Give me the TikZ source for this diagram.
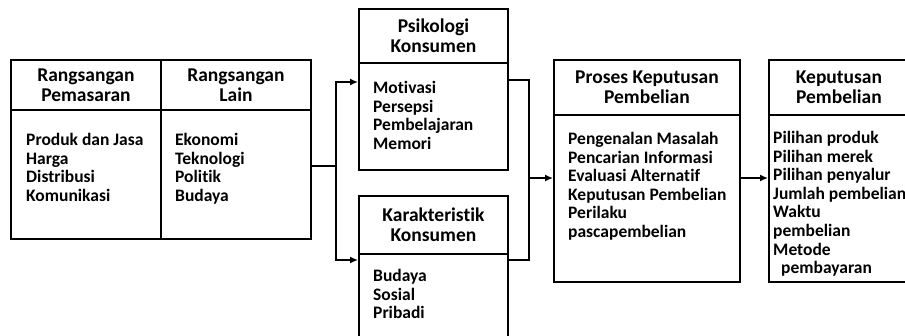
\documentclass[tikz,border=0pt]{standalone}
\usepackage{fontspec}
\setmainfont{Carlito}[Ligatures=CommonOff]
\usetikzlibrary{arrows.meta}

\newcommand{\hdfont}{\bfseries\fontsize{19.5}{20}\selectfont}
\newcommand{\itfont}{\bfseries\fontsize{17.5}{18.6}\selectfont}

\begin{document}
\begin{tikzpicture}[x=1pt, y=-1pt,
    box/.style={draw, line width=1.9pt, inner sep=0pt, anchor=north west},
    hd/.style={box, font=\hdfont, align=center},
    items/.style={anchor=north west, inner sep=0pt, align=left, font=\itfont},
    line/.style={line width=1.4pt},
    arr/.style={line, -{Latex[length=8pt, width=7pt]}}]
    \useasboundingbox (0,0) rectangle (905,335);

    \node[hd, minimum width=150pt, minimum height=50pt] (rpH) at (10,59) {Rangsangan\\Pemasaran};
    \node[hd, minimum width=150pt, minimum height=50pt] (rlH) at (160,59) {Rangsangan\\Lain};
    \node[box, minimum width=150pt, minimum height=129pt] (rpB) at (10,109) {};
    \node[box, minimum width=150pt, minimum height=129pt] (rlB) at (160,109) {};
    \node[items] (rpT) at (26,133) {Produk dan Jasa\\Harga\\Distribusi\\Komunikasi};
    \node[items] (rlT) at (175,133) {Ekonomi\\Teknologi\\Politik\\Budaya};

    \node[hd, minimum width=149pt, minimum height=54pt] (psiH) at (358,8) {Psikologi\\Konsumen};
    \node[box, minimum width=149pt, minimum height=107pt] (psiB) at (358,62) {};
    \node[items] (psiT) at (373,81) {Motivasi\\Persepsi\\Pembelajaran\\Memori};

    \node[hd, minimum width=149pt, minimum height=58pt] (karH) at (358,195) {Karakteristik\\Konsumen};
    \node[box, minimum width=149pt, minimum height=92pt] (karB) at (358,253) {};
    \node[items] (karT) at (373,269) {Budaya\\Sosial\\Pribadi};

    \node[hd, minimum width=186pt, minimum height=55pt] (proH) at (553,59) {Proses Keputusan\\Pembelian};
    \node[box, minimum width=186pt, minimum height=167pt] (proB) at (553,114) {};
    \node[items] (proT) at (568,132) {Pengenalan Masalah\\Pencarian Informasi\\Evaluasi Alternatif\\Keputusan Pembelian\\Perilaku\\pascapembelian};

    \node[hd, minimum width=140pt, minimum height=55pt] (kepH) at (768,59) {Keputusan\\Pembelian};
    \node[box, minimum width=140pt, minimum height=167pt] (kepB) at (768,114) {};
    \node[items] (kepT) at (773,131) {Pilihan produk\\Pilihan merek\\Pilihan penyalur\\Jumlah pembelian\\Waktu\\pembelian\\Metode\\\hspace{8pt}pembayaran};

    \coordinate (j1) at (336,166);
    \coordinate (j2) at (529,178);
    \draw[line] (rlB.east |- j1) -- (j1);
    \draw[arr] (j1) |- ([yshift=-20pt]psiB.north west);
    \draw[arr] (j1) |- ([yshift=-7pt]karB.north west);
    \draw[line] ([yshift=-18pt]psiB.north east) -| (j2);
    \draw[line] ([yshift=-7pt]karB.north east) -| (j2);
    \draw[arr] (j2) -- (proB.west |- j2);
    \draw[arr] (proB.east |- j2) -- (kepB.west |- j2);
\end{tikzpicture}
\end{document}
